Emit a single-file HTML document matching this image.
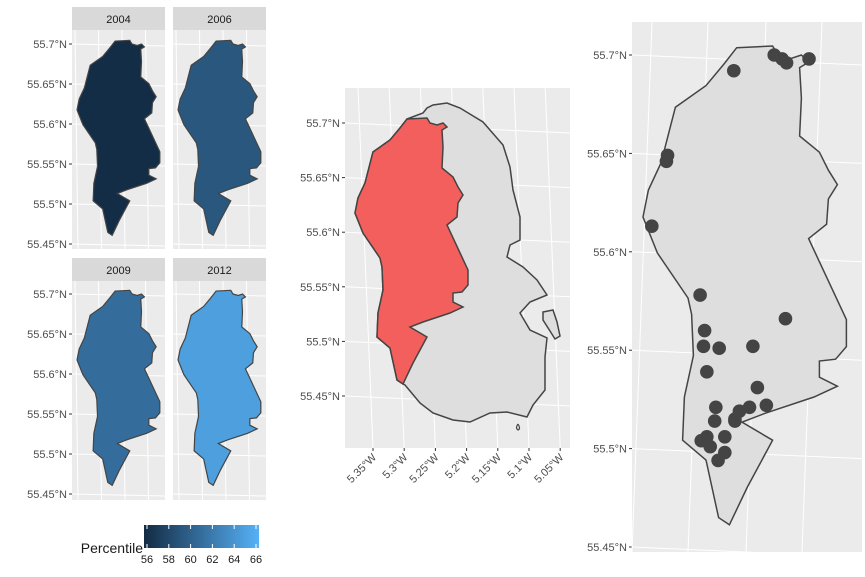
<!DOCTYPE html>
<html><head><meta charset="utf-8">
<style>
html,body{margin:0;padding:0;background:#fff;}
svg{display:block;font-family:"Liberation Sans",sans-serif;}
.tick{font-size:11px;fill:#4d4d4d;}
</style></head>
<body>
<svg id="fig" width="865" height="577" viewBox="0 0 865 577">
<defs>
<linearGradient id="cbar" x1="0" x2="1" y1="0" y2="0">
<stop offset="0" stop-color="#132b43"/><stop offset="1" stop-color="#56b1f7"/>
</linearGradient>
</defs>
</svg>
<script>
// ---- data ----
const years = ["2004","2006","2009","2012"];
const percentile = [56.3, 59.8, 61.4, 64.8];
const latTicks = [55.7, 55.65, 55.6, 55.55, 55.5, 55.45];
const latTickLabels = ["55.7°N","55.65°N","55.6°N","55.55°N","55.5°N","55.45°N"];
const lonTicks = [5.35, 5.3, 5.25, 5.2, 5.15, 5.1, 5.05];
const lonTickLabels = ["5.35°W","5.3°W","5.25°W","5.2°W","5.15°W","5.1°W","5.05°W"];
const legendTicks = [56, 58, 60, 62, 64, 66];
const siteLon = [5.298,5.262,5.255,5.251,5.231,5.357,5.358,5.371,5.328,5.252,5.324,5.325,5.311,5.281,5.322,5.277,5.314,5.269,5.284,5.293,5.297,5.315,5.297,5.306,5.327,5.322,5.319,5.306,5.312];
const siteLat = [55.692,55.700,55.698,55.696,55.698,55.649,55.646,55.613,55.578,55.566,55.560,55.552,55.551,55.552,55.539,55.531,55.521,55.522,55.521,55.519,55.515,55.514,55.514,55.506,55.504,55.506,55.501,55.498,55.494];

// ---- shape geometry (base frame = middle panel pixels) ----
const westShape = [[407,119],[427,118],[430,123],[437,125],[443,123],[447,127],[442,130],[443,147],[442,168],[453,177],[458,187],[463,195],[458,203],[457,217],[447,225],[468,270],[468,285],[462,292],[453,293],[453,302],[463,307],[450,313],[423,322],[410,327],[427,337],[413,363],[403,384],[397,380],[390,348],[377,337],[378,313],[383,290],[382,267],[380,258],[363,233],[355,213],[358,198],[365,183],[373,152],[390,140],[400,128]];
const eastChain = [[407,119],[423,113],[427,108],[433,105],[447,103],[460,108],[483,122],[503,145],[510,167],[513,190],[520,217],[520,240],[510,245],[507,257],[523,267],[537,280],[547,295],[530,302],[520,313],[530,330],[547,338],[545,357],[545,390],[533,405],[527,417],[507,412],[490,413],[470,422],[453,420],[433,413],[420,403],[405,385]];
const islet = [[543,312],[553,310],[557,322],[560,336],[555,339],[550,331],[543,320]];

const svg = document.getElementById('fig');
const NS = 'http://www.w3.org/2000/svg';
function mk(tag, attrs, parent){const e=document.createElementNS(NS,tag);for(const k in attrs)e.setAttribute(k,attrs[k]);(parent||svg).appendChild(e);return e;}
function pts(arr,f){return arr.map(p=>f(p).join(',')).join(' ');}
function lerpColor(v){const t=Math.pow((v-56)/10,1.15);const a=[0x13,0x2b,0x43],b=[0x56,0xb1,0xf7];return 'rgb('+a.map((c,i)=>Math.round(c+(b[i]-c)*t)).join(',')+')';}

// ---- small multiples ----
const smallPanels=[{x:72,y:30,ox:77,oy:44},{x:173,y:30,ox:178,oy:44},{x:72,y:281,ox:77,oy:294},{x:173,y:281,ox:178,oy:294}];
const S=0.733;
smallPanels.forEach((P,i)=>{
  const g=mk('g',{});
  
  
  const strip=mk('rect',{x:P.x,y:P.y-23,width:93,height:23,fill:'#d9d9d9'},g);
  
  
  const st=mk('text',{x:P.x+46.5,y:P.y-7,'text-anchor':'middle','font-size':'11',fill:'#1a1a1a'},g);st.textContent=years[i];
  
  
  mk('rect',{x:P.x,y:P.y,width:93,height:219,fill:'#ebebeb'},g);
  const yS=lat=>P.oy+(55.7-lat)*800;
  latTicks.forEach(l=>{const y=yS(l);mk('line',{x1:P.x,y1:y,x2:P.x+93,y2:y+2,stroke:'#fff','stroke-width':1},g);});
  [0,1,2,3].forEach(k=>{const x=P.x+6+k*23.5;mk('line',{x1:x-3,y1:P.y,x2:x,y2:P.y+219,stroke:'#fff','stroke-width':1},g);});
  const f=p=>[P.ox+(p[0]-355)*S,P.oy+(p[1]-123)*S];
  const poly=mk('polygon',{points:pts(westShape,f),fill:lerpColor(percentile[i]),stroke:'#444','stroke-width':1.2},g);
  
  
  if(i%2===0){latTicks.forEach((l,j)=>{const y=yS(l);mk('line',{x1:P.x-3,y1:y,x2:P.x,y2:y,stroke:'#333'},g);
    const t=mk('text',{x:P.x-5,y:y+4,'text-anchor':'end',class:'tick'},g);t.textContent=latTickLabels[j];
    
    });}
});

// ---- legend ----
const lg=mk('g',{});


const lt=mk('text',{x:143,y:553,'text-anchor':'end','font-size':'14',fill:'#1a1a1a'},lg);lt.textContent='Percentile';
mk('rect',{x:144,y:525,width:115,height:23,fill:'url(#cbar)'},lg);
const lx=v=>147+(v-56)*10.9;
legendTicks.forEach(v=>{const x=lx(v);
  mk('line',{x1:x,y1:525,x2:x,y2:529,stroke:'#fff'},lg);mk('line',{x1:x,y1:544,x2:x,y2:548,stroke:'#fff'},lg);
  const t=mk('text',{x:x,y:563,'text-anchor':'middle','font-size':'11',fill:'#1a1a1a'},lg);t.textContent=v;
  
  });

// ---- middle map ----
const mg=mk('g',{});


mk('rect',{x:345,y:88,width:225,height:360,fill:'#ebebeb'},mg);
const myS=lat=>123+(55.7-lat)*1092;
const mxS=lon=>373+(5.35-lon)*624;
latTicks.forEach((l,j)=>{const y=myS(l);mk('line',{x1:345,y1:y,x2:570,y2:y+10,stroke:'#fff'},mg);
  mk('line',{x1:342,y1:y,x2:345,y2:y,stroke:'#333'},mg);
  const t=mk('text',{x:340,y:y+4,'text-anchor':'end',class:'tick'},mg);t.textContent=latTickLabels[j];
  
  });
lonTicks.forEach((l,j)=>{const x=mxS(l);mk('line',{x1:x-15,y1:88,x2:x,y2:448,stroke:'#fff'},mg);
  mk('line',{x1:x,y1:448,x2:x,y2:451,stroke:'#333'},mg);
  const t=mk('text',{x:x+4,y:458,'text-anchor':'end',class:'tick',transform:'rotate(-45 '+(x+4)+' 458)'},mg);t.textContent=lonTickLabels[j];
  
  });
const id=p=>p;
const island=mk('polygon',{points:pts(eastChain.concat(westShape.slice(26)),id),fill:'#dedede',stroke:'#444','stroke-width':1.5},mg);


const islt=mk('polygon',{points:pts(islet,id),fill:'#dedede',stroke:'#444','stroke-width':1.5},mg);


mk('path',{d:'M518,424 q-3,4 0,6 q3,-1 0,-6',fill:'none',stroke:'#444','stroke-width':1.2},mg);
const red=mk('polygon',{points:pts(westShape,id),fill:'#f35f5c',stroke:'#444','stroke-width':1.5},mg);



// ---- right map ----
const rg=mk('g',{});


mk('rect',{x:632,y:22,width:230,height:530,fill:'#ebebeb'},rg);
const ryS=lat=>55+(55.7-lat)*1968;
const rxS=lon=>675.4+(5.35-lon)*1123;
latTicks.forEach((l,j)=>{const y=ryS(l);mk('line',{x1:632,y1:y,x2:862,y2:y+10,stroke:'#fff'},rg);
  mk('line',{x1:629,y1:y,x2:632,y2:y,stroke:'#333'},rg);
  const t=mk('text',{x:627,y:y+4,'text-anchor':'end',class:'tick'},rg);t.textContent=latTickLabels[j];
  
  });
[652,708,766,822].forEach(x=>mk('line',{x1:x,y1:22,x2:x-20,y2:552,stroke:'#fff'},rg));
const rf=p=>[643+(p[0]-355)*1.8,55+(p[1]-123)*1.8];
const rpoly=mk('polygon',{points:pts(westShape,rf),fill:'#dedede',stroke:'#444','stroke-width':1.5},rg);


siteLon.forEach((lon,i)=>{
  const c=mk('circle',{cx:rxS(lon),cy:ryS(siteLat[i]),r:6.8,fill:'#444'},rg);
  
  
});
</script>
</body></html>
